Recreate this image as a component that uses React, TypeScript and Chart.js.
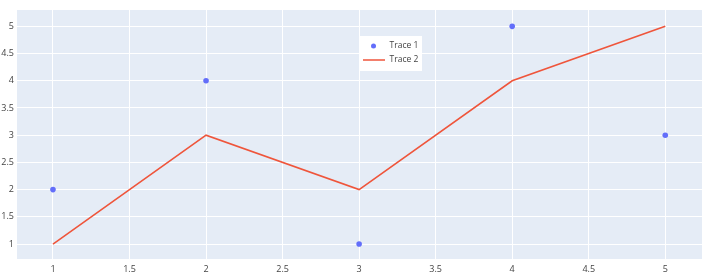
import React, { useEffect, useRef } from "react";
import { Chart, registerables } from "chart.js";

Chart.register(...registerables);

const xValues = [1, 2, 3, 4, 5];
const trace1Values = [2, 4, 1, 5, 3];
const trace2Values = [1, 3, 2, 4, 5];
const seriesNames = ["Trace 1", "Trace 2"];
const xTicks = [1, 1.5, 2, 2.5, 3, 3.5, 4, 4.5, 5];
const yTicks = [1, 1.5, 2, 2.5, 3, 3.5, 4, 4.5, 5];

const BLUE = "#636efa";
const RED = "#EF553B";
const FONT = "'Open Sans', 'Noto Sans', sans-serif";

const legendPlugin = {
  id: "plotlyLegend",
  afterDraw(chart: any) {
    const ctx = chart.ctx as CanvasRenderingContext2D;
    const ca = chart.chartArea;
    const left = Math.round(ca.left + 0.5 * (ca.right - ca.left));
    const top = Math.round(ca.top + 26);
    ctx.save();
    ctx.fillStyle = "#ffffff";
    ctx.fillRect(left, top, 62, 35);
    ctx.fillStyle = BLUE;
    ctx.beginPath();
    ctx.arc(left + 13.5, top + 10, 2.5, 0, Math.PI * 2);
    ctx.fill();
    ctx.strokeStyle = RED;
    ctx.lineWidth = 1.5;
    ctx.beginPath();
    ctx.moveTo(left + 3, top + 24);
    ctx.lineTo(left + 25, top + 24);
    ctx.stroke();
    ctx.fillStyle = "#444444";
    ctx.font = `8.5px ${FONT}`;
    ctx.textBaseline = "middle";
    ctx.textAlign = "left";
    ctx.fillText(seriesNames[0], left + 29.5, top + 10);
    ctx.fillText(seriesNames[1], left + 29.5, top + 24);
    ctx.restore();
  },
};

const bgPlugin = {
  id: "plotBg",
  beforeDraw(chart: any) {
    const ctx = chart.ctx as CanvasRenderingContext2D;
    const ca = chart.chartArea;
    ctx.save();
    ctx.fillStyle = "#ffffff";
    ctx.fillRect(0, 0, chart.width, chart.height);
    ctx.fillStyle = "#E5ECF6";
    ctx.fillRect(ca.left, ca.top, ca.right - ca.left, ca.bottom - ca.top);
    ctx.restore();
  },
};

export default function App() {
  const ref = useRef<HTMLCanvasElement | null>(null);
  useEffect(() => {
    document.body.style.margin = "0";
    if (!ref.current) return;
    const chart = new Chart(ref.current, {
      type: "scatter",
      data: {
        datasets: [
          {
            label: seriesNames[0],
            data: xValues.map((x, i) => ({ x, y: trace1Values[i] })),
            showLine: false,
            backgroundColor: BLUE,
            borderColor: BLUE,
            pointRadius: 2.8,
            pointBorderWidth: 0,
          },
          {
            label: seriesNames[1],
            data: xValues.map((x, i) => ({ x, y: trace2Values[i] })),
            showLine: true,
            borderColor: RED,
            backgroundColor: RED,
            borderWidth: 1.6,
            pointRadius: 0,
          },
        ],
      },
      options: {
        animation: false,
        responsive: false,
        devicePixelRatio: 1,
        layout: { padding: { top: 10, right: 14, left: 0, bottom: 0 }, autoPadding: false },
        plugins: { legend: { display: false }, tooltip: { enabled: false } },
        scales: {
          x: {
            type: "linear",
            min: 0.765,
            max: 5.24,
            afterBuildTicks: (s: any) => {
              s.ticks = xTicks.map((v) => ({ value: v }));
            },
            afterFit: (s: any) => {
              s.height = 18;
            },
            grid: { color: "#ffffff", lineWidth: 1, drawTicks: false },
            border: { display: false },
            ticks: {
              color: "#444444",
              font: { family: FONT, size: 9 },
              padding: 5,
              maxRotation: 0,
              autoSkip: false,
              callback: (v: any) => String(v),
            },
          },
          y: {
            type: "linear",
            min: 0.725,
            max: 5.3,
            afterBuildTicks: (s: any) => {
              s.ticks = yTicks.map((v) => ({ value: v }));
            },
            afterFit: (s: any) => {
              s.width = 17;
            },
            grid: { color: "#ffffff", lineWidth: 1, drawTicks: false },
            border: { display: false },
            ticks: {
              color: "#444444",
              font: { family: FONT, size: 9 },
              padding: 3,
              autoSkip: false,
              callback: (v: any) => String(v),
            },
          },
        },
      },
      plugins: [bgPlugin, legendPlugin],
    });
    return () => chart.destroy();
  }, []);
  return (
    <div style={{ width: 716, height: 277 }}>
      <canvas ref={ref} width={716} height={277} style={{ display: "block" }} />
    </div>
  );
}
